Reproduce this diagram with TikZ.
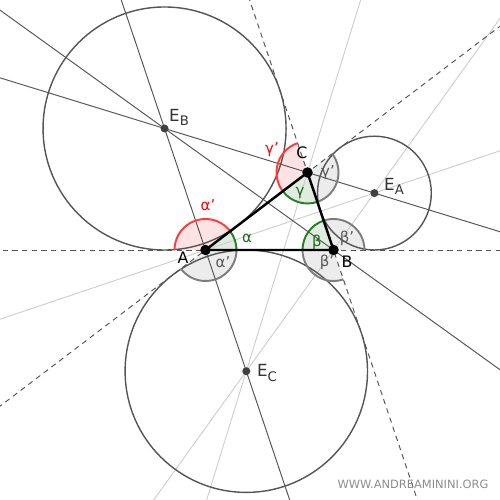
\documentclass[tikz,border=0pt]{standalone}
\usepackage{fontspec}
\setmainfont{DejaVu Sans}
\usetikzlibrary{calc}
\definecolor{angred}{RGB}{255,60,60}
\definecolor{anggreen}{RGB}{40,125,40}
\definecolor{anggray}{RGB}{125,125,125}
\definecolor{exline}{RGB}{85,85,85}
\newcommand\exsub[1]{\raisebox{-0.45ex}{\fontsize{7.5}{8}\selectfont #1}}
\tikzset{
  lightline/.style={draw=black!20,line width=0.5pt},
  darkline/.style={draw=exline,line width=0.55pt},
  sideline/.style={draw=exline,line width=0.55pt,dash pattern=on 3pt off 2.5pt},
  excircle/.style={draw=exline,line width=0.8pt},
  lbl/.style={font=\fontsize{9}{10}\selectfont,inner sep=1pt},
  exlbl/.style={font=\fontsize{9.5}{10}\selectfont,text=black!80,inner sep=1pt},
  anglbl/.style={font=\fontsize{8.5}{10}\selectfont,inner sep=1pt}
}

\begin{document}
\begin{tikzpicture}
\useasboundingbox (0,0) rectangle (10,10);
\clip (0,0) rectangle (10,10);
\def\r{0.62}
\coordinate (A) at (4.11,5);
\coordinate (B) at (6.67,5);
\coordinate (C) at (6.15,6.55);
\coordinate (EA) at (7.488,6.138);
\coordinate (EB) at (3.291,7.430);
\coordinate (EC) at (4.926,2.576);
\foreach \p/\a/\b/\c in {A/0/37.23/anggreen,A/37.23/180/angred,A/217.23/360/anggray,
  B/108.55/180/anggreen,B/0/108.55/anggray,B/180/288.55/anggray,
  C/217.23/288.55/anggreen,C/108.55/217.23/angred,C/288.55/397.23/anggray}
  \fill[\c,fill opacity=0.15] (\p) -- ++(\a:\r) arc (\a:\b:\r) -- cycle;
\draw[lightline] ($(A)!-4!(EA)$) -- ($(EA)!-4!(A)$);
\draw[lightline] ($(C)!-4!(EC)$) -- ($(EC)!-4!(C)$);
\draw[lightline] ($(EA)!-4!(EC)$) -- ($(EC)!-4!(EA)$);
\draw[darkline] ($(B)!-4!(EB)$) -- ($(EB)!-4!(B)$);
\draw[darkline] ($(EB)!-4!(EC)$) -- ($(EC)!-4!(EB)$);
\draw[darkline] ($(EB)!-4!(EA)$) -- ($(EA)!-4!(EB)$);
\draw[sideline] ($(A)!-4!(B)$) -- ($(B)!-4!(A)$);
\draw[sideline] ($(A)!-4!(C)$) -- ($(C)!-4!(A)$);
\draw[sideline] ($(B)!-4!(C)$) -- ($(C)!-4!(B)$);
\draw[excircle] (EA) circle (1.138);
\draw[excircle] (EB) circle (2.430);
\draw[excircle] (EC) circle (2.424);
\foreach \p/\a/\b/\c in {A/0/37.23/anggreen,A/37.23/180/angred,A/217.23/360/anggray,
  B/108.55/180/anggreen,B/0/108.55/anggray,B/180/288.55/anggray,
  C/217.23/288.55/anggreen,C/108.55/217.23/angred,C/288.55/397.23/anggray}
  \draw[\c,line width=1.1pt] ($(\p)+(\a:\r)$) arc (\a:\b:\r);
\draw[line width=1.4pt] (A) -- (B) -- (C) -- cycle;
\foreach \p in {A,B,C} \fill (\p) circle (0.105);
\foreach \p in {EA,EB,EC} \fill[black!75] (\p) circle (0.08);
\node[lbl] (lA) at (3.66,4.84) {A};
\node[lbl] (lB) at (6.94,4.76) {B};
\node[lbl] (lC) at (6.04,6.94) {C};
\node[exlbl] (lEA) at (7.88,6.28) {E\exsub{A}};
\node[exlbl] (lEB) at (3.58,7.65) {E\exsub{B}};
\node[exlbl] (lEC) at (5.34,2.54) {E\exsub{C}};
\node[anglbl,text=red] (la1) at (4.16,5.90) {α'};
\node[anglbl,text=anggreen!80!black] (la2) at (4.94,5.24) {α};
\node[anglbl,text=black!65] (la3) at (4.46,4.76) {α'};
\node[anglbl,text=anggreen!80!black] (lb1) at (6.34,5.16) {β};
\node[anglbl,text=black!65] (lb2) at (6.94,5.24) {β'};
\node[anglbl,text=black!65] (lb3) at (6.54,4.76) {β'};
\node[anglbl,text=red] (lc1) at (5.44,7.0) {γ'};
\node[anglbl,text=anggreen!80!black] (lc2) at (6.0,6.14) {γ};
\node[anglbl,text=black!65] (lc3) at (6.56,6.54) {γ'};
\node[font=\fontsize{6.5}{8}\selectfont,text=black!45] (wm) at (8.26,0.32) {WWW.ANDREAMININI.ORG};
\end{tikzpicture}
\end{document}
